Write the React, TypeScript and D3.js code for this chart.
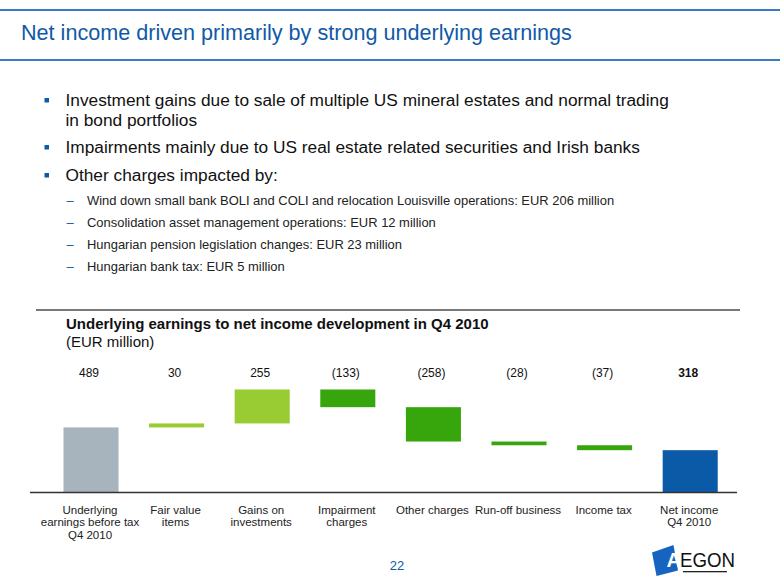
import React from "react";
import * as d3 from "d3";

const categories = [
  "Underlying earnings before tax Q4 2010",
  "Fair value items",
  "Gains on investments",
  "Impairment charges",
  "Other charges",
  "Run-off business",
  "Income tax",
  "Net income Q4 2010",
];
const categoryLines = [
  ["Underlying", "earnings before tax", "Q4 2010"],
  ["Fair value", "items"],
  ["Gains on", "investments"],
  ["Impairment", "charges"],
  ["Other charges"],
  ["Run-off business"],
  ["Income tax"],
  ["Net income", "Q4 2010"],
];
const values = [489, 30, 255, -133, -258, -28, -37, 318];
const valueLabels = ["489", "30", "255", "(133)", "(258)", "(28)", "(37)", "318"];
const kinds = ["start", "delta", "delta", "delta", "delta", "delta", "delta", "total"];

const bullets = [
  ["Investment gains due to sale of multiple US mineral estates and normal trading", "in bond portfolios"],
  ["Impairments mainly due to US real estate related securities and Irish banks"],
  ["Other charges impacted by:"],
];
const subBullets = [
  "Wind down small bank BOLI and COLI and relocation Louisville operations: EUR 206 million",
  "Consolidation asset management operations: EUR 12 million",
  "Hungarian pension legislation changes: EUR 23 million",
  "Hungarian bank tax: EUR 5 million",
];

const FONT = "'Liberation Sans', Arial, Helvetica, sans-serif";
const BLUE = "#0f5aa8";
const GRAY = "#a7b4bd";
const LIGHT_GREEN = "#99cc33";
const DARK_GREEN = "#36a60c";
const NET_BLUE = "#0a5aa8";

export default function App() {
  const W = 780;
  const H = 585;
  const baseY = 492.5;

  const x = d3
    .scaleBand<string>()
    .domain(categories)
    .range([48.2, 733])
    .paddingInner(0.357)
    .paddingOuter(0.1785);
  const y = d3.scaleLinear().domain([0, 800]).range([baseY, baseY - 800 * 0.1331]);

  let running = 0;
  const bars = values.map((v, i) => {
    let lo: number, hi: number, color: string;
    if (kinds[i] === "start") {
      lo = 0;
      hi = v;
      running = v;
      color = GRAY;
    } else if (kinds[i] === "total") {
      lo = 0;
      hi = v;
      color = NET_BLUE;
    } else {
      const next = running + v;
      lo = Math.min(running, next);
      hi = Math.max(running, next);
      color = v >= 0 ? LIGHT_GREEN : DARK_GREEN;
      running = next;
    }
    return { cat: categories[i], lo, hi, color, i };
  });

  const bulletBaselines = [[106, 125.5], [153], [181]];
  const subBaselines = [204.5, 227, 249, 271];

  return (
    <svg
      width={W}
      height={H}
      viewBox={`0 0 ${W} ${H}`}
      style={{ position: "absolute", left: 0, top: 0, background: "#fff", fontFamily: FONT }}
    >
      <rect x={0} y={0} width={W} height={H} fill="#fff" />
      <rect x={0} y={9} width={W} height={2} fill="#3a7cc4" />
      <rect x={0} y={59} width={W} height={2} fill="#3a7cc4" />
      <text x={21} y={40} fontSize={21.6} fill={BLUE}>
        Net income driven primarily by strong underlying earnings
      </text>

      {bullets.map((lines, bi) => (
        <g key={"b" + bi}>
          <rect x={44.5} y={bulletBaselines[bi][0] - 8} width={4.5} height={4.5} fill={BLUE} />
          {lines.map((ln, li) => (
            <text key={li} x={65.5} y={bulletBaselines[bi][li]} fontSize={17.3} fill="#111">
              {ln}
            </text>
          ))}
        </g>
      ))}
      {subBullets.map((s, si) => (
        <g key={"s" + si}>
          <text x={66.5} y={subBaselines[si]} fontSize={13} fill={BLUE}>
            –
          </text>
          <text x={87} y={subBaselines[si]} fontSize={12.95} fill="#222">
            {s}
          </text>
        </g>
      ))}

      <rect x={36} y={309} width={704} height={2} fill="#7a7a7a" />
      <text x={66} y={329} fontSize={15} fontWeight="bold" fill="#111">
        Underlying earnings to net income development in Q4 2010
      </text>
      <text x={66} y={346.5} fontSize={15} fill="#111">
        (EUR million)
      </text>

      {bars.map((b) => (
        <rect
          key={b.cat}
          x={x(b.cat)!}
          y={y(b.hi)}
          width={x.bandwidth()}
          height={Math.max(1, y(b.lo) - y(b.hi))}
          fill={b.color}
        />
      ))}
      {categories.map((c, i) => (
        <text
          key={"v" + i}
          x={x(c)! + x.bandwidth() / 2 - 2}
          y={377}
          fontSize={12}
          textAnchor="middle"
          fontWeight={i === categories.length - 1 ? "bold" : "normal"}
          fill="#111"
        >
          {valueLabels[i]}
        </text>
      ))}
      <line x1={30} x2={737} y1={baseY} y2={baseY} stroke="#333" strokeWidth={1.5} />
      {categories.map((c, i) => (
        <text key={"c" + i} x={x(c)! + x.bandwidth() / 2} fontSize={11.5} textAnchor="middle" fill="#222">
          {categoryLines[i].map((ln, li) => (
            <tspan key={li} x={x(c)! + x.bandwidth() / 2 - 1} y={513.5 + li * 12.8}>
              {ln}
            </tspan>
          ))}
        </text>
      ))}

      <text x={397} y={570} fontSize={13} textAnchor="middle" fill={BLUE}>
        22
      </text>

      <g>
        <polygon points="652,552.5 673.5,545 678,570.5 656.5,576" fill="#1764c0" />
        <text x={666.5} y={567} fontSize={20} fontWeight="bold" fill="#fff">
          A
        </text>
        <text x={680} y={566.5} fontSize={20.5} fill="#111" textLength={55} lengthAdjust="spacingAndGlyphs">
          EGON
        </text>
        <rect x={683} y={571} width={44} height={1.3} fill="#222" />
      </g>
    </svg>
  );
}
